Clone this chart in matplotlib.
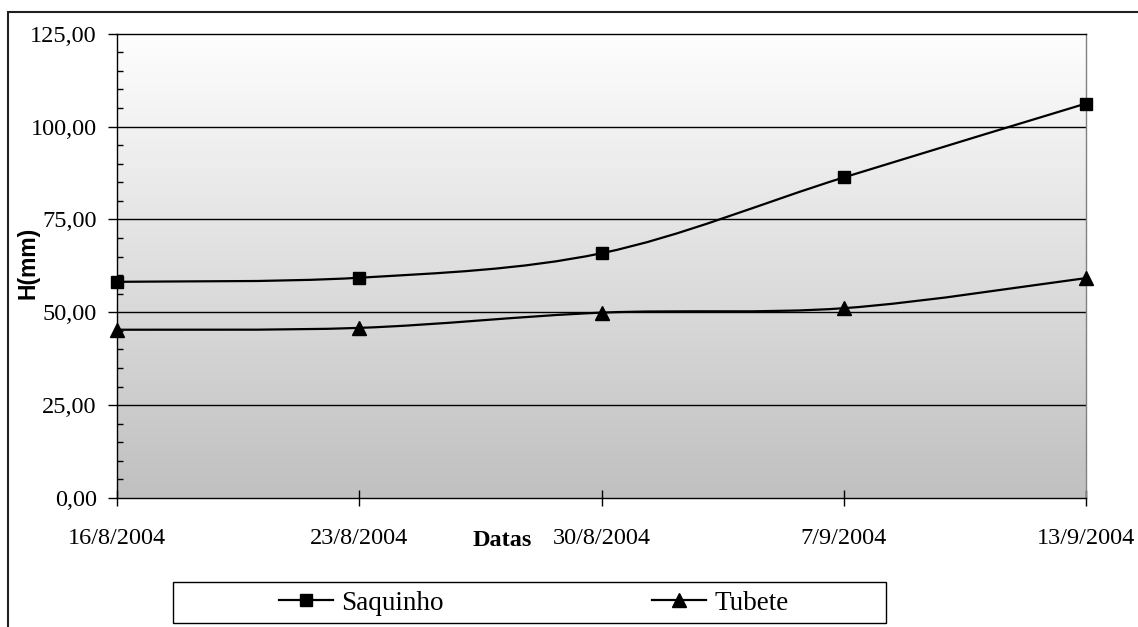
import numpy as np
import matplotlib
matplotlib.use("Agg")
import matplotlib.pyplot as plt
from matplotlib.path import Path
from matplotlib.patches import PathPatch, Rectangle
from matplotlib.lines import Line2D
from matplotlib.ticker import MultipleLocator, FuncFormatter

datas = ["16/8/2004", "23/8/2004", "30/8/2004", "7/9/2004", "13/9/2004"]
saquinho = [58.2, 59.3, 65.9, 86.3, 106.2]
tubete = [45.3, 45.8, 49.9, 51.1, 59.2]

serif = "Liberation Serif"
sans = "Liberation Sans"


def smooth_path(xs, ys):
    # cubic bezier through every point, tangents from the neighbours
    p = np.column_stack([xs, ys]).astype(float)
    n = len(p)
    verts = [p[0]]
    codes = [Path.MOVETO]
    for i in range(n - 1):
        prev = p[max(i - 1, 0)]
        nxt = p[min(i + 2, n - 1)]
        c1 = p[i] + (p[i + 1] - prev) / 6.0
        c2 = p[i + 1] - (nxt - p[i]) / 6.0
        verts += [c1, c2, p[i + 1]]
        codes += [Path.CURVE4] * 3
    return Path(verts, codes)


W, H = 1138, 627
fig = plt.figure(figsize=(W / 100, H / 100), dpi=100)
ax = fig.add_axes([117 / W, 1 - 498 / H, (1086 - 117) / W, (498 - 33.7) / H])

x = np.arange(len(datas))
ax.set_xlim(0, len(datas) - 1)
ax.set_ylim(0, 125)

# grey gradient behind the plot
grad = np.linspace(0, 1, 256).reshape(-1, 1)
ax.imshow(grad, extent=[0, len(datas) - 1, 0, 125], aspect="auto",
          cmap=matplotlib.colors.LinearSegmentedColormap.from_list(
              "bg", ["#c0c0c0", "#fefefe"]),
          origin="lower", zorder=0, interpolation="bicubic")

for v in [25, 50, 75, 100]:
    ax.axhline(v, color="black", lw=1.0, zorder=1)

for vals, mk, ms in [(saquinho, "s", 8.5), (tubete, "^", 10)]:
    ax.add_patch(PathPatch(smooth_path(x, vals), fill=False, lw=1.6,
                           edgecolor="black", zorder=3))
    ax.plot(x, vals, linestyle="none", marker=mk, ms=ms, color="black",
            zorder=4, clip_on=False)

ax.spines["top"].set_color("black")
ax.spines["left"].set_color("black")
ax.spines["bottom"].set_color("black")
ax.spines["right"].set_color("#808080")
for s in ax.spines.values():
    s.set_linewidth(1.0)

ax.set_xticks(x)
ax.set_xticklabels(datas)
ax.yaxis.set_major_locator(MultipleLocator(25))
ax.yaxis.set_minor_locator(MultipleLocator(5))
ax.yaxis.set_major_formatter(FuncFormatter(lambda v, _: f"{v:.2f}".replace(".", ",")))
ax.tick_params(axis="y", which="major", direction="out", length=6.5, width=1,
               pad=8, labelsize=17.5)
ax.tick_params(axis="y", which="minor", direction="in", length=4.3, width=1)
ax.tick_params(axis="x", which="major", direction="inout", length=11.5, width=1,
               pad=16, labelsize=17.5)
for lab in ax.get_yticklabels() + ax.get_xticklabels():
    lab.set_fontfamily(serif)

fig.text(502 / W, 1 - 540 / H, "Datas", fontfamily=serif, fontweight="bold",
         fontsize=17.5, ha="center", va="center")
fig.text(28 / W, 1 - 263 / H, "H(mm)", fontfamily=sans, fontweight="bold",
         fontsize=16.5, rotation=90, ha="center", va="center")

# outer chart frame, runs off the right and bottom edges
fig.patches.append(Rectangle((8 / W, -0.1), 1.2, 1.1 - 12 / H,
                             transform=fig.transFigure, fill=False,
                             edgecolor="#202020", lw=1.5))

# legend box
fig.patches.append(Rectangle((173 / W, 1 - 623 / H), (886 - 173) / W, 41 / H,
                             transform=fig.transFigure, fill=False,
                             edgecolor="black", lw=1.0))
handles = [Line2D([], [], color="black", lw=1.6, marker="s", ms=8.5),
           Line2D([], [], color="black", lw=1.6, marker="^", ms=10)]
fig.legend(handles, ["Saquinho", "Tubete"], loc="center left",
           bbox_to_anchor=(279 / W, 1 - 603 / H), ncol=2, frameon=False,
           prop={"family": serif, "size": 19.5}, handlelength=2.0,
           handletextpad=0.3, columnspacing=7.7, borderpad=0, borderaxespad=0)

fig.savefig("out.png", dpi=100)
